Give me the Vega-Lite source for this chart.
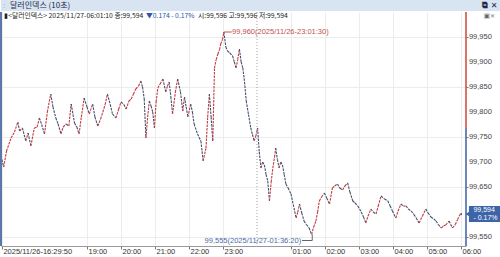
{
  "$schema": "https://vega.github.io/schema/vega-lite/v6.json",
  "padding": 0,
  "spacing": 0,
  "background": "white",
  "config": {
    "view": {"stroke": null},
    "text": {"font": "Liberation Sans"}
  },
  "vconcat": [
    {
      "width": 500,
      "height": 11,
      "view": {"fill": "#d8e4f2", "stroke": null},
      "data": {"values": [{"k": 1}]},
      "layer": [
        {
          "mark": {"type": "text", "align": "left", "baseline": "middle", "font": "Noto Sans CJK KR", "fontSize": 8, "color": "#1c2a48"},
          "encoding": {
            "x": {"datum": 9, "type": "quantitative", "scale": {"domain": [0, 500]}, "axis": null},
            "y": {"datum": 0.5, "type": "quantitative", "scale": {"domain": [0, 1]}, "axis": null},
            "text": {"value": "달러인덱스 (10초)"}
          }
        },
        {
          "mark": {"type": "text", "align": "left", "baseline": "middle", "fontSize": 8, "color": "#8a98b0"},
          "encoding": {
            "x": {"datum": 2, "type": "quantitative", "axis": null},
            "y": {"datum": 0.5, "type": "quantitative", "axis": null},
            "text": {"value": ":"}
          }
        },
        {
          "mark": {"type": "text", "align": "left", "baseline": "middle", "font": "DejaVu Sans", "fontSize": 8, "fontWeight": "bold", "color": "#1c2a48"},
          "encoding": {
            "x": {"datum": 481, "type": "quantitative", "axis": null},
            "y": {"datum": 0.5, "type": "quantitative", "axis": null},
            "text": {"value": "⧉ ✕"}
          }
        }
      ]
    },
    {
      "width": 465,
      "height": 234,
      "layer": [
        {
          "data": {"name": "px"},
          "transform": [
            {"window": [{"op": "lead", "field": "t", "as": "t2"}, {"op": "lead", "field": "v", "as": "v2"}], "sort": [{"field": "t"}]},
            {"filter": "datum.v2 != null"},
            {"calculate": "datum.v2 >= datum.v ? 'up' : 'down'", "as": "dir"}
          ],
          "mark": {"type": "rule", "strokeWidth": 1.1, "strokeDash": [2.5, 1]},
          "encoding": {
            "x": {
              "field": "t", "type": "temporal",
              "scale": {"domain": [
                {"year": 2025, "month": 11, "date": 26, "hours": 16, "minutes": 28, "seconds": 14},
                {"year": 2025, "month": 11, "date": 27, "hours": 6, "minutes": 8, "seconds": 50}
              ]},
              "axis": {
                "title": null,
                "values": [
                  {"year": 2025, "month": 11, "date": 26, "hours": 16, "minutes": 29, "seconds": 50},
                  {"year": 2025, "month": 11, "date": 26, "hours": 19},
                  {"year": 2025, "month": 11, "date": 26, "hours": 20},
                  {"year": 2025, "month": 11, "date": 26, "hours": 21},
                  {"year": 2025, "month": 11, "date": 26, "hours": 22},
                  {"year": 2025, "month": 11, "date": 26, "hours": 23},
                  {"year": 2025, "month": 11, "date": 27, "hours": 1},
                  {"year": 2025, "month": 11, "date": 27, "hours": 2},
                  {"year": 2025, "month": 11, "date": 27, "hours": 3},
                  {"year": 2025, "month": 11, "date": 27, "hours": 4},
                  {"year": 2025, "month": 11, "date": 27, "hours": 5},
                  {"year": 2025, "month": 11, "date": 27, "hours": 6}
                ],
                "labelExpr": "hours(datum.value) == 16 ? '2025/11/26-16:29:50' : timeFormat(datum.value, '%H:%M')",
                "labelAlign": "left",
                "labelBaseline": "top",
                "labelPadding": -2,
                "labelOffset": 1,
                "labelFlush": false,
                "labelOverlap": false,
                "labelFont": "Liberation Sans",
                "labelFontSize": 7.5,
                "labelColor": "#333",
                "tickSize": 3,
                "tickColor": "#777",
                "domainColor": "#999",
                "grid": true,
                "gridColor": "#ececec"
              }
            },
            "x2": {"field": "t2"},
            "y": {
              "field": "v", "type": "quantitative",
              "scale": {"domain": [99.532, 100.0], "nice": false, "zero": false},
              "axis": {
                "orient": "right",
                "title": null,
                "values": [99.55, 99.6, 99.65, 99.7, 99.75, 99.8, 99.85, 99.9, 99.95],
                "labels": false,
                "tickSize": 2,
                "tickColor": "#777",
                "domain": false,
                "grid": true,
                "gridColor": "#ececec"
              }
            },
            "y2": {"field": "v2"},
            "color": {
              "field": "dir", "type": "nominal",
              "scale": {"domain": ["up", "down"], "range": ["#c23a44", "#44506a"]},
              "legend": null
            }
          }
        },
        {
          "data": {"values": [{"v": 99.55}, {"v": 99.65}, {"v": 99.7}, {"v": 99.75}, {"v": 99.8}, {"v": 99.85}, {"v": 99.9}, {"v": 99.95}]},
          "transform": [{"calculate": "replace(format(datum.v, '.3f'), '.', ',')", "as": "lab"}],
          "mark": {"type": "text", "align": "left", "baseline": "middle", "fontSize": 7.5, "color": "#444", "font": "Liberation Sans"},
          "encoding": {
            "x": {"datum": {"year": 2025, "month": 11, "date": 27, "hours": 6, "minutes": 14}, "type": "temporal"},
            "y": {"field": "v", "type": "quantitative"},
            "text": {"field": "lab"}
          }
        },
        {
          "data": {"values": [{}]},
          "mark": {"type": "rule", "color": "#a0a0a0", "strokeDash": [1, 2], "strokeWidth": 1},
          "encoding": {
            "x": {"datum": {"year": 2025, "month": 11, "date": 27, "hours": 0}, "type": "temporal"}
          }
        },
        {
          "data": {"values": [{}]},
          "mark": {"type": "rule", "color": "#5b78ad", "strokeWidth": 2},
          "encoding": {
            "x": {"datum": {"year": 2025, "month": 11, "date": 26, "hours": 16, "minutes": 28, "seconds": 14}, "type": "temporal"}
          }
        },
        {
          "data": {"values": [{}]},
          "mark": {"type": "rule", "color": "#d0453a", "strokeWidth": 1.5},
          "encoding": {
            "x": {"datum": {"year": 2025, "month": 11, "date": 27, "hours": 6, "minutes": 8, "seconds": 50}, "type": "temporal"},
            "y": {"datum": 100.0, "type": "quantitative"},
            "y2": {"datum": 99.768}
          }
        },
        {
          "data": {"values": [{}]},
          "mark": {"type": "rule", "color": "#3d5fa3", "strokeWidth": 1.5},
          "encoding": {
            "x": {"datum": {"year": 2025, "month": 11, "date": 27, "hours": 6, "minutes": 8, "seconds": 50}, "type": "temporal"},
            "y": {"datum": 99.768, "type": "quantitative"},
            "y2": {"datum": 99.532}
          }
        },
        {
          "data": {"values": [{}]},
          "mark": {"type": "rule", "color": "#c0504d", "strokeWidth": 1},
          "encoding": {
            "x": {"datum": {"year": 2025, "month": 11, "date": 26, "hours": 23, "minutes": 1, "seconds": 30}, "type": "temporal"},
            "x2": {"datum": {"year": 2025, "month": 11, "date": 26, "hours": 23, "minutes": 15, "seconds": 30}},
            "y": {"datum": 99.96, "type": "quantitative"}
          }
        },
        {
          "data": {"values": [{}]},
          "mark": {"type": "text", "align": "left", "baseline": "middle", "fontSize": 7.5, "color": "#c0504d"},
          "encoding": {
            "x": {"datum": {"year": 2025, "month": 11, "date": 26, "hours": 23, "minutes": 16}, "type": "temporal"},
            "y": {"datum": 99.96, "type": "quantitative"},
            "text": {"value": "99,960(2025/11/26-23:01:30)"}
          }
        },
        {
          "data": {"values": [{}]},
          "mark": {"type": "rule", "color": "#666", "strokeWidth": 1},
          "encoding": {
            "x": {"datum": {"year": 2025, "month": 11, "date": 27, "hours": 1, "minutes": 19, "seconds": 30}, "type": "temporal"},
            "x2": {"datum": {"year": 2025, "month": 11, "date": 27, "hours": 1, "minutes": 37, "seconds": 30}},
            "y": {"datum": 99.543, "type": "quantitative"}
          }
        },
        {
          "data": {"values": [{}]},
          "mark": {"type": "rule", "color": "#666", "strokeWidth": 1},
          "encoding": {
            "x": {"datum": {"year": 2025, "month": 11, "date": 27, "hours": 1, "minutes": 37, "seconds": 30}, "type": "temporal"},
            "y": {"datum": 99.555, "type": "quantitative"},
            "y2": {"datum": 99.543}
          }
        },
        {
          "data": {"values": [{}]},
          "mark": {"type": "text", "align": "right", "baseline": "middle", "fontSize": 7.5, "color": "#4a6aa5"},
          "encoding": {
            "x": {"datum": {"year": 2025, "month": 11, "date": 27, "hours": 1, "minutes": 18}, "type": "temporal"},
            "y": {"datum": 99.543, "type": "quantitative"},
            "text": {"value": "99,555(2025/11/27-01:36:20)"}
          }
        },
        {
          "data": {"values": [{}]},
          "mark": {"type": "text", "align": "left", "baseline": "middle", "font": "Noto Sans CJK KR", "fontSize": 6.8, "color": "#222"},
          "encoding": {
            "x": {"datum": {"year": 2025, "month": 11, "date": 26, "hours": 16, "minutes": 34}, "type": "temporal"},
            "y": {"datum": 99.992, "type": "quantitative"},
            "text": {"value": "▮<달러인덱스> 2025/11/27-06:01:10 종:99,594"}
          }
        },
        {
          "data": {"values": [{}]},
          "mark": {"type": "text", "align": "left", "baseline": "middle", "font": "Noto Sans CJK KR", "fontSize": 6.8, "color": "#2d55a8"},
          "encoding": {
            "x": {"datum": {"year": 2025, "month": 11, "date": 26, "hours": 20, "minutes": 44}, "type": "temporal"},
            "y": {"datum": 99.992, "type": "quantitative"},
            "text": {"value": "▼0.174  - 0.17%"}
          }
        },
        {
          "data": {"values": [{}]},
          "mark": {"type": "text", "align": "left", "baseline": "middle", "font": "Noto Sans CJK KR", "fontSize": 6.8, "color": "#222"},
          "encoding": {
            "x": {"datum": {"year": 2025, "month": 11, "date": 26, "hours": 22, "minutes": 16}, "type": "temporal"},
            "y": {"datum": 99.992, "type": "quantitative"},
            "text": {"value": "시:99,596 고:99,596 저:99,594"}
          }
        },
        {
          "data": {"values": [{}]},
          "mark": {"type": "text", "align": "left", "baseline": "middle", "font": "DejaVu Sans", "fontSize": 6.5, "color": "#666"},
          "encoding": {
            "x": {"datum": {"year": 2025, "month": 11, "date": 27, "hours": 6, "minutes": 40}, "type": "temporal"},
            "y": {"datum": 99.992, "type": "quantitative"},
            "text": {"value": "▣×"}
          }
        },
        {
          "data": {"values": [{}]},
          "mark": {"type": "rect", "color": "#3d64a8"},
          "encoding": {
            "x": {"datum": {"year": 2025, "month": 11, "date": 27, "hours": 6, "minutes": 14}, "type": "temporal"},
            "x2": {"datum": {"year": 2025, "month": 11, "date": 27, "hours": 7, "minutes": 10}},
            "y": {"datum": 99.612, "type": "quantitative"},
            "y2": {"datum": 99.58}
          }
        },
        {
          "data": {"values": [{}]},
          "mark": {"type": "point", "shape": "triangle-left", "filled": true, "color": "#3d64a8", "size": 30, "opacity": 1},
          "encoding": {
            "x": {"datum": {"year": 2025, "month": 11, "date": 27, "hours": 6, "minutes": 12}, "type": "temporal"},
            "y": {"datum": 99.596, "type": "quantitative"}
          }
        },
        {
          "data": {"values": [{}]},
          "mark": {"type": "text", "align": "left", "baseline": "middle", "fontSize": 7, "color": "white"},
          "encoding": {
            "x": {"datum": {"year": 2025, "month": 11, "date": 27, "hours": 6, "minutes": 22}, "type": "temporal"},
            "y": {"datum": 99.604, "type": "quantitative"},
            "text": {"value": "99,594"}
          }
        },
        {
          "data": {"values": [{}]},
          "mark": {"type": "text", "align": "left", "baseline": "middle", "fontSize": 7, "color": "white"},
          "encoding": {
            "x": {"datum": {"year": 2025, "month": 11, "date": 27, "hours": 6, "minutes": 22}, "type": "temporal"},
            "y": {"datum": 99.588, "type": "quantitative"},
            "text": {"value": "- 0.17%"}
          }
        }
      ]
    }
  ],
  "datasets": {
    "px": [
      {"t": "2025-11-26T16:29:50", "v": 99.705},
      {"t": "2025-11-26T16:33:00", "v": 99.690},
      {"t": "2025-11-26T16:38:00", "v": 99.722},
      {"t": "2025-11-26T16:46:00", "v": 99.748},
      {"t": "2025-11-26T16:52:00", "v": 99.760},
      {"t": "2025-11-26T16:58:00", "v": 99.780},
      {"t": "2025-11-26T17:01:00", "v": 99.762},
      {"t": "2025-11-26T17:06:00", "v": 99.768},
      {"t": "2025-11-26T17:12:00", "v": 99.742},
      {"t": "2025-11-26T17:16:00", "v": 99.758},
      {"t": "2025-11-26T17:21:00", "v": 99.732},
      {"t": "2025-11-26T17:27:00", "v": 99.768},
      {"t": "2025-11-26T17:32:00", "v": 99.770},
      {"t": "2025-11-26T17:36:00", "v": 99.788},
      {"t": "2025-11-26T17:40:00", "v": 99.775},
      {"t": "2025-11-26T17:45:00", "v": 99.756},
      {"t": "2025-11-26T17:50:00", "v": 99.800},
      {"t": "2025-11-26T17:56:00", "v": 99.836},
      {"t": "2025-11-26T18:00:00", "v": 99.810},
      {"t": "2025-11-26T18:05:00", "v": 99.788},
      {"t": "2025-11-26T18:09:00", "v": 99.776},
      {"t": "2025-11-26T18:14:00", "v": 99.756},
      {"t": "2025-11-26T18:18:00", "v": 99.770},
      {"t": "2025-11-26T18:23:00", "v": 99.776},
      {"t": "2025-11-26T18:28:00", "v": 99.772},
      {"t": "2025-11-26T18:32:00", "v": 99.816},
      {"t": "2025-11-26T18:38:00", "v": 99.778},
      {"t": "2025-11-26T18:42:00", "v": 99.770},
      {"t": "2025-11-26T18:46:00", "v": 99.756},
      {"t": "2025-11-26T18:50:00", "v": 99.790},
      {"t": "2025-11-26T18:55:00", "v": 99.828},
      {"t": "2025-11-26T19:00:00", "v": 99.810},
      {"t": "2025-11-26T19:04:00", "v": 99.796},
      {"t": "2025-11-26T19:10:00", "v": 99.816},
      {"t": "2025-11-26T19:14:00", "v": 99.790},
      {"t": "2025-11-26T19:19:00", "v": 99.772},
      {"t": "2025-11-26T19:24:00", "v": 99.786},
      {"t": "2025-11-26T19:28:00", "v": 99.800},
      {"t": "2025-11-26T19:32:00", "v": 99.815},
      {"t": "2025-11-26T19:36:00", "v": 99.836},
      {"t": "2025-11-26T19:41:00", "v": 99.815},
      {"t": "2025-11-26T19:45:00", "v": 99.796},
      {"t": "2025-11-26T19:51:00", "v": 99.788},
      {"t": "2025-11-26T19:56:00", "v": 99.806},
      {"t": "2025-11-26T20:00:00", "v": 99.820},
      {"t": "2025-11-26T20:05:00", "v": 99.815},
      {"t": "2025-11-26T20:09:00", "v": 99.806},
      {"t": "2025-11-26T20:14:00", "v": 99.822},
      {"t": "2025-11-26T20:18:00", "v": 99.826},
      {"t": "2025-11-26T20:22:00", "v": 99.836},
      {"t": "2025-11-26T20:26:00", "v": 99.846},
      {"t": "2025-11-26T20:31:00", "v": 99.852},
      {"t": "2025-11-26T20:35:00", "v": 99.862},
      {"t": "2025-11-26T20:38:00", "v": 99.850},
      {"t": "2025-11-26T20:41:00", "v": 99.826},
      {"t": "2025-11-26T20:44:00", "v": 99.748},
      {"t": "2025-11-26T20:47:00", "v": 99.790},
      {"t": "2025-11-26T20:50:00", "v": 99.822},
      {"t": "2025-11-26T20:53:00", "v": 99.812},
      {"t": "2025-11-26T20:56:00", "v": 99.800},
      {"t": "2025-11-26T20:59:00", "v": 99.768},
      {"t": "2025-11-26T21:02:00", "v": 99.820},
      {"t": "2025-11-26T21:05:00", "v": 99.848},
      {"t": "2025-11-26T21:09:00", "v": 99.856},
      {"t": "2025-11-26T21:14:00", "v": 99.866},
      {"t": "2025-11-26T21:19:00", "v": 99.840},
      {"t": "2025-11-26T21:22:00", "v": 99.852},
      {"t": "2025-11-26T21:25:00", "v": 99.860},
      {"t": "2025-11-26T21:28:00", "v": 99.830},
      {"t": "2025-11-26T21:31:00", "v": 99.796},
      {"t": "2025-11-26T21:36:00", "v": 99.840},
      {"t": "2025-11-26T21:40:00", "v": 99.866},
      {"t": "2025-11-26T21:45:00", "v": 99.840},
      {"t": "2025-11-26T21:49:00", "v": 99.802},
      {"t": "2025-11-26T21:52:00", "v": 99.830},
      {"t": "2025-11-26T21:55:00", "v": 99.810},
      {"t": "2025-11-26T21:58:00", "v": 99.790},
      {"t": "2025-11-26T22:03:00", "v": 99.816},
      {"t": "2025-11-26T22:06:00", "v": 99.800},
      {"t": "2025-11-26T22:09:00", "v": 99.776},
      {"t": "2025-11-26T22:15:00", "v": 99.756},
      {"t": "2025-11-26T22:21:00", "v": 99.742},
      {"t": "2025-11-26T22:25:00", "v": 99.702},
      {"t": "2025-11-26T22:30:00", "v": 99.728},
      {"t": "2025-11-26T22:33:00", "v": 99.790},
      {"t": "2025-11-26T22:36:00", "v": 99.836},
      {"t": "2025-11-26T22:39:00", "v": 99.790},
      {"t": "2025-11-26T22:42:00", "v": 99.742},
      {"t": "2025-11-26T22:45:00", "v": 99.888},
      {"t": "2025-11-26T22:48:00", "v": 99.905},
      {"t": "2025-11-26T22:51:00", "v": 99.916},
      {"t": "2025-11-26T22:54:00", "v": 99.925},
      {"t": "2025-11-26T22:56:00", "v": 99.936},
      {"t": "2025-11-26T22:59:00", "v": 99.945},
      {"t": "2025-11-26T23:01:30", "v": 99.960},
      {"t": "2025-11-26T23:05:00", "v": 99.930},
      {"t": "2025-11-26T23:08:00", "v": 99.922},
      {"t": "2025-11-26T23:12:00", "v": 99.918},
      {"t": "2025-11-26T23:17:00", "v": 99.912},
      {"t": "2025-11-26T23:20:00", "v": 99.900},
      {"t": "2025-11-26T23:23:00", "v": 99.888},
      {"t": "2025-11-26T23:26:00", "v": 99.905},
      {"t": "2025-11-26T23:29:00", "v": 99.926},
      {"t": "2025-11-26T23:32:00", "v": 99.900},
      {"t": "2025-11-26T23:35:00", "v": 99.888},
      {"t": "2025-11-26T23:38:00", "v": 99.860},
      {"t": "2025-11-26T23:41:00", "v": 99.822},
      {"t": "2025-11-26T23:45:00", "v": 99.795},
      {"t": "2025-11-26T23:49:00", "v": 99.768},
      {"t": "2025-11-26T23:52:00", "v": 99.755},
      {"t": "2025-11-26T23:55:00", "v": 99.742},
      {"t": "2025-11-26T23:58:00", "v": 99.752},
      {"t": "2025-11-27T00:01:00", "v": 99.768},
      {"t": "2025-11-27T00:04:00", "v": 99.720},
      {"t": "2025-11-27T00:07:00", "v": 99.688},
      {"t": "2025-11-27T00:10:00", "v": 99.700},
      {"t": "2025-11-27T00:13:00", "v": 99.694},
      {"t": "2025-11-27T00:16:00", "v": 99.675},
      {"t": "2025-11-27T00:19:00", "v": 99.662},
      {"t": "2025-11-27T00:22:00", "v": 99.622},
      {"t": "2025-11-27T00:25:00", "v": 99.660},
      {"t": "2025-11-27T00:28:00", "v": 99.688},
      {"t": "2025-11-27T00:31:00", "v": 99.710},
      {"t": "2025-11-27T00:33:00", "v": 99.728},
      {"t": "2025-11-27T00:36:00", "v": 99.705},
      {"t": "2025-11-27T00:39:00", "v": 99.688},
      {"t": "2025-11-27T00:42:00", "v": 99.700},
      {"t": "2025-11-27T00:45:00", "v": 99.694},
      {"t": "2025-11-27T00:48:00", "v": 99.675},
      {"t": "2025-11-27T00:51:00", "v": 99.656},
      {"t": "2025-11-27T00:55:00", "v": 99.648},
      {"t": "2025-11-27T01:00:00", "v": 99.636},
      {"t": "2025-11-27T01:04:00", "v": 99.615},
      {"t": "2025-11-27T01:09:00", "v": 99.588},
      {"t": "2025-11-27T01:12:00", "v": 99.600},
      {"t": "2025-11-27T01:15:00", "v": 99.616},
      {"t": "2025-11-27T01:19:00", "v": 99.598},
      {"t": "2025-11-27T01:23:00", "v": 99.582},
      {"t": "2025-11-27T01:27:00", "v": 99.575},
      {"t": "2025-11-27T01:32:00", "v": 99.568},
      {"t": "2025-11-27T01:36:20", "v": 99.555},
      {"t": "2025-11-27T01:40:00", "v": 99.570},
      {"t": "2025-11-27T01:44:00", "v": 99.582},
      {"t": "2025-11-27T01:47:00", "v": 99.600},
      {"t": "2025-11-27T01:50:00", "v": 99.622},
      {"t": "2025-11-27T01:54:00", "v": 99.630},
      {"t": "2025-11-27T01:59:00", "v": 99.638},
      {"t": "2025-11-27T02:03:00", "v": 99.628},
      {"t": "2025-11-27T02:08:00", "v": 99.616},
      {"t": "2025-11-27T02:13:00", "v": 99.648},
      {"t": "2025-11-27T02:17:00", "v": 99.652},
      {"t": "2025-11-27T02:22:00", "v": 99.656},
      {"t": "2025-11-27T02:26:00", "v": 99.648},
      {"t": "2025-11-27T02:31:00", "v": 99.644},
      {"t": "2025-11-27T02:35:00", "v": 99.652},
      {"t": "2025-11-27T02:40:00", "v": 99.658},
      {"t": "2025-11-27T02:44:00", "v": 99.640},
      {"t": "2025-11-27T02:49:00", "v": 99.622},
      {"t": "2025-11-27T02:53:00", "v": 99.618},
      {"t": "2025-11-27T02:58:00", "v": 99.612},
      {"t": "2025-11-27T03:04:00", "v": 99.600},
      {"t": "2025-11-27T03:08:00", "v": 99.590},
      {"t": "2025-11-27T03:12:00", "v": 99.578},
      {"t": "2025-11-27T03:16:00", "v": 99.592},
      {"t": "2025-11-27T03:21:00", "v": 99.606},
      {"t": "2025-11-27T03:25:00", "v": 99.600},
      {"t": "2025-11-27T03:30:00", "v": 99.596},
      {"t": "2025-11-27T03:34:00", "v": 99.612},
      {"t": "2025-11-27T03:39:00", "v": 99.632},
      {"t": "2025-11-27T03:45:00", "v": 99.626},
      {"t": "2025-11-27T03:51:00", "v": 99.622},
      {"t": "2025-11-27T03:55:00", "v": 99.612},
      {"t": "2025-11-27T03:59:00", "v": 99.602},
      {"t": "2025-11-27T04:05:00", "v": 99.588},
      {"t": "2025-11-27T04:09:00", "v": 99.602},
      {"t": "2025-11-27T04:14:00", "v": 99.616},
      {"t": "2025-11-27T04:18:00", "v": 99.612},
      {"t": "2025-11-27T04:23:00", "v": 99.612},
      {"t": "2025-11-27T04:27:00", "v": 99.606},
      {"t": "2025-11-27T04:32:00", "v": 99.602},
      {"t": "2025-11-27T04:37:00", "v": 99.595},
      {"t": "2025-11-27T04:41:00", "v": 99.588},
      {"t": "2025-11-27T04:46:00", "v": 99.578},
      {"t": "2025-11-27T04:52:00", "v": 99.592},
      {"t": "2025-11-27T04:58:00", "v": 99.606},
      {"t": "2025-11-27T05:02:00", "v": 99.598},
      {"t": "2025-11-27T05:07:00", "v": 99.590},
      {"t": "2025-11-27T05:12:00", "v": 99.586},
      {"t": "2025-11-27T05:16:00", "v": 99.582},
      {"t": "2025-11-27T05:20:00", "v": 99.575},
      {"t": "2025-11-27T05:25:00", "v": 99.568},
      {"t": "2025-11-27T05:29:00", "v": 99.572},
      {"t": "2025-11-27T05:33:00", "v": 99.574},
      {"t": "2025-11-27T05:39:00", "v": 99.582},
      {"t": "2025-11-27T05:45:00", "v": 99.568},
      {"t": "2025-11-27T05:50:00", "v": 99.575},
      {"t": "2025-11-27T05:54:00", "v": 99.585},
      {"t": "2025-11-27T05:57:00", "v": 99.592},
      {"t": "2025-11-27T06:00:00", "v": 99.598},
      {"t": "2025-11-27T06:01:10", "v": 99.594}
    ]
  }
}
